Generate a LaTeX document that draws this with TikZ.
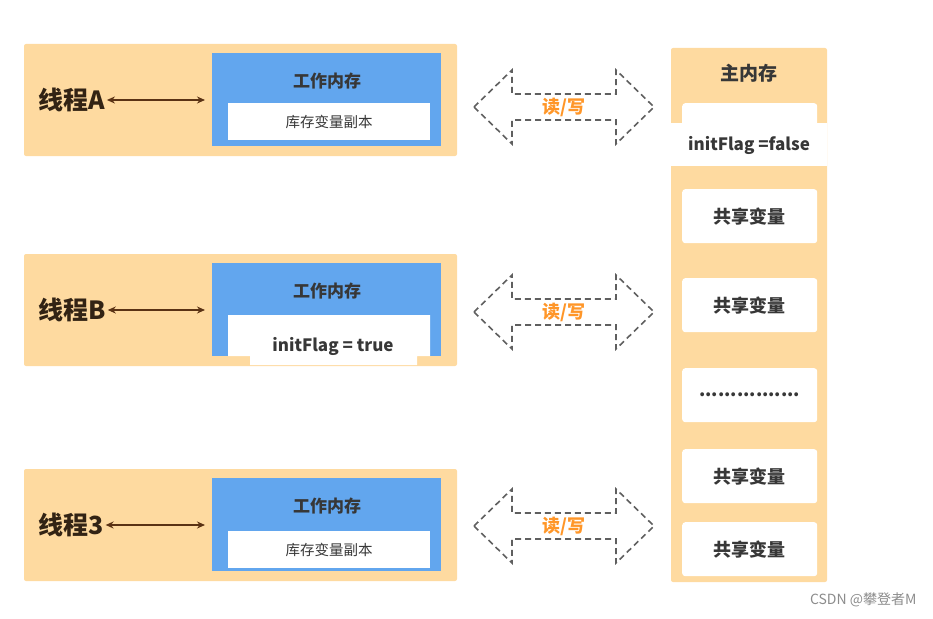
\documentclass[tikz,border=0pt]{standalone}
\usepackage{fontspec}
\setmainfont{Noto Sans CJK SC}
\usetikzlibrary{arrows.meta}
\definecolor{threadbg}{RGB}{254,218,160}
\definecolor{workblue}{RGB}{98,166,238}
\definecolor{linkbrown}{RGB}{90,50,20}
\definecolor{labelink}{RGB}{50,35,20}
\definecolor{rworange}{RGB}{255,150,40}
\definecolor{rwgray}{RGB}{95,95,95}
\definecolor{textgray}{RGB}{55,55,55}

\begin{document}
\begin{tikzpicture}[
  x=1pt, y=-1pt,
  thread/.style={fill=threadbg, rounded corners=2pt, inner sep=0, outer sep=0,
    minimum width=433, minimum height=112},
  workmem/.style={fill=workblue, inner sep=0, outer sep=0,
    minimum width=229, minimum height=93},
  varbox/.style={fill=white, rounded corners=3pt, inner sep=0,
    minimum width=135, minimum height=54},
  title/.style={text=textgray, font=\bfseries\fontsize{17}{17}\selectfont},
  tlabel/.style={text=labelink, font=\bfseries\fontsize{25}{25}\selectfont, inner sep=2pt},
  copytext/.style={text=textgray, font=\fontsize{14.5}{14.5}\selectfont},
  flagtext/.style={text=textgray, font=\bfseries\fontsize{17}{17}\selectfont},
  vartext/.style={text=textgray, font=\bfseries\fontsize{18}{18}\selectfont},
  rw/.style={draw=rwgray, line width=1.6pt, dash pattern=on 6pt off 4pt},
  rwtext/.style={text=rworange, font=\bfseries\fontsize{18}{18}\selectfont},
  link/.style={{Stealth[length=8pt,width=7pt]}-{Stealth[length=8pt,width=7pt]},
    draw=linkbrown, line width=1.4pt, shorten >=7pt}]
  \useasboundingbox (0,0) rectangle (933,618);
  % draw thread boxes with their working memory
  \foreach \tname/\ty [count=\i] in {A/44,B/254,3/469} {
    \node[thread, anchor=north west] (t\i) at (24,\ty) {};
    \node[workmem, anchor=north west] (w\i) at (212,\ty+9) {};
    \node[title] (wt\i) at (327,\ty+37) {工作内存};
    \node[tlabel, anchor=west] (n\i) at (36,\ty+56) {线程\tname};
    \draw[link] (n\i.east) -- (n\i.east -| w\i.west);
  }
  % local copies in thread A and thread 3
  \foreach \i/\cy in {1/103,3/531} {
    \node[fill=white, anchor=north west, inner sep=0, minimum width=202,
      minimum height=37] (c\i) at (228,\cy) {};
    \node[copytext] (ct\i) at (c\i) {库存变量副本};
  }
  % local copy of thread B sticks out below
  \fill[white] (228,315) -- (430,315) -- (430,356) -- (417,356) -- (417,365)
    -- (250,365) -- (250,356) -- (228,356) -- cycle;
  \node[flagtext] (c2) at (333,346) {initFlag = true};
  % main memory column
  \node[thread, anchor=north west, minimum width=156, minimum height=534] (main) at (671,48) {};
  \node[title, font=\bfseries\fontsize{19}{19}\selectfont] (mt) at (749,73) {主内存};
  \node[varbox, anchor=north west] (v0) at (682,103) {};
  \begin{scope}
    \clip (682,103) rectangle (817,123);
    \node[vartext] (vt0) at (749,132.5) {共享变量};
  \end{scope}
  \fill[white] (671,123) rectangle (827,166);
  \node[flagtext] (flag) at (749,145) {initFlag =false};
  \foreach \vy/\vt [count=\j] in {189/共享变量,278/共享变量,368/{................},449/共享变量,522/共享变量} {
    \node[varbox, anchor=north west] (v\j) at (682,\vy) {};
    \node[vartext] (vt\j) at (v\j) {\vt};
  }
  % dashed read/write arrows
  \foreach \cy [count=\i] in {107,312,526} {
    \coordinate (rw\i) at (564,\cy);
    \draw[rw] (rw\i) ++(-90,0) -- ++(38,-37) -- ++(0,24) -- ++(104,0) -- ++(0,-24)
      -- ++(38,37) -- ++(-38,37) -- ++(0,-24) -- ++(-104,0) -- ++(0,24) -- cycle;
    \node[rwtext] (rwt\i) at (rw\i) {读/写};
  }
  % watermark
  \node[anchor=east, text=black!45, font=\fontsize{14}{14}\selectfont] (mark) at (920,600) {CSDN @攀登者M};
\end{tikzpicture}
\end{document}
